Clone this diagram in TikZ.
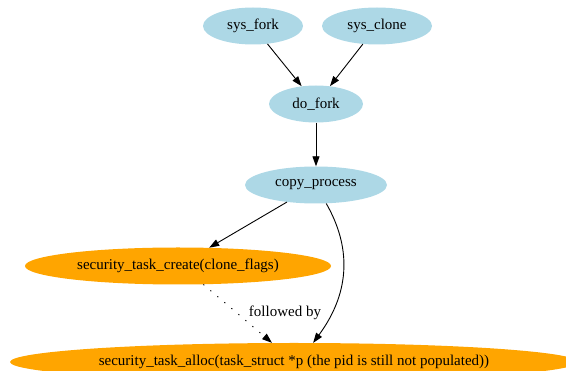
\documentclass[tikz,border=0pt]{standalone}
\usepackage{fontspec}
\setmainfont{Liberation Serif}
\usetikzlibrary{shapes.geometric,arrows.meta}
\definecolor{callblue}{HTML}{ADD8E6}
\definecolor{hookorange}{HTML}{FFA500}
\tikzset{
  fn/.style={ellipse, inner sep=0pt, font=\fontsize{15}{18}\selectfont},
  kfn/.style={fn, fill=callblue},
  hook/.style={fn, fill=hookorange},
  call/.style={draw=black, line width=0.9pt, -{Triangle[length=10pt,width=7pt]}},
  seq/.style={call, dash pattern=on 1.2pt off 8pt}
}
\begin{document}
\begin{tikzpicture}[x=1pt,y=-1pt]
  \useasboundingbox (0,0) rectangle (566,371);
  \clip (0,0) rectangle (566,371);
  % call graph nodes
  \node[kfn, minimum width=100pt, minimum height=37pt] (sysfork) at (253,26) {sys\_fork};
  \node[kfn, minimum width=110pt, minimum height=37pt] (sysclone) at (377,26) {sys\_clone};
  \node[kfn, minimum width=94pt, minimum height=37pt] (dofork) at (316,104) {do\_fork};
  \node[kfn, minimum width=142pt, minimum height=37pt] (copyproc) at (316,185) {copy\_process};
  \node[hook, minimum width=306pt, minimum height=37pt] (create) at (178,266) {security\_task\_create(clone\_flags)};
  \node[hook, minimum width=568pt, minimum height=38pt] (alloc) at (294,362) {security\_task\_alloc(task\_struct *p (the pid is still not populated))};
  \node[font=\fontsize{15}{18}\selectfont, inner sep=0pt] (lbl) at (285,313) {followed by};
  % edges
  \draw[call] (sysfork) -- (dofork);
  \draw[call] (sysclone) -- (dofork);
  \draw[call] (dofork) -- (copyproc);
  \draw[call] (copyproc) -- (create);
  \draw[call] (copyproc.-61) .. controls (350,245) and (352,290) .. (alloc.45);
  \draw[seq] (create.-36) -- (alloc.139);
\end{tikzpicture}
\end{document}
